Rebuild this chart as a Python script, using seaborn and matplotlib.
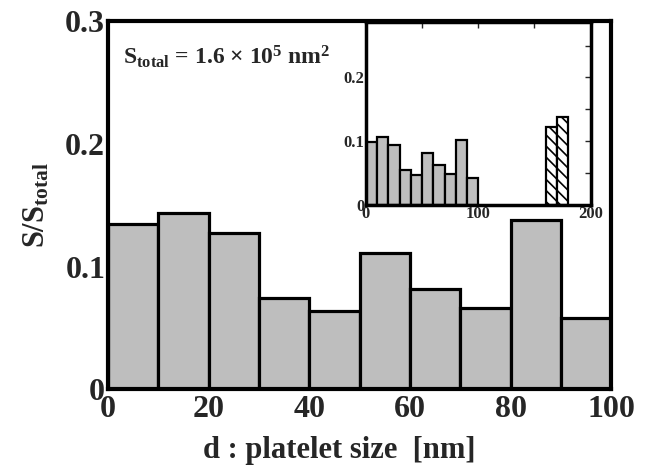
import numpy as np
import pandas as pd
import matplotlib
matplotlib.use("Agg")
import matplotlib.pyplot as plt
import seaborn as sns

# ---- data ----
main_edges = [0, 10, 20, 30, 40, 50, 60, 70, 80, 90, 100]
main_values = [0.135, 0.144, 0.127, 0.074, 0.064, 0.111, 0.082, 0.066, 0.138, 0.058]

inset_edges = [0, 10, 20, 30, 40, 50, 60, 70, 80, 90, 100]
inset_values = [0.0995, 0.106, 0.094, 0.0545, 0.047, 0.082, 0.062, 0.049, 0.102, 0.043]

hatch_edges = [160, 170, 180]
hatch_values = [0.122, 0.138]

main_xticks = [0, 20, 40, 60, 80, 100]
main_yticks = [0, 0.1, 0.2, 0.3]
main_yticklabels = ["0", "0.1", "0.2", "0.3"]
inset_xticks = [0, 100, 200]
inset_yticks = [0, 0.1, 0.2]
inset_yticklabels = ["0", "0.1", "0.2"]

sns.set_style("white")
plt.rcParams["font.family"] = ["Liberation Serif", "DejaVu Serif"]
plt.rcParams["font.weight"] = "bold"
plt.rcParams["mathtext.fontset"] = "custom"
plt.rcParams["mathtext.rm"] = "Liberation Serif:bold"
plt.rcParams["mathtext.bf"] = "Liberation Serif:bold"
plt.rcParams["mathtext.it"] = "Liberation Serif:bold"
plt.rcParams["hatch.linewidth"] = 1.2

GREY = "#bebebe"

def centers(edges):
    e = np.asarray(edges, dtype=float)
    return (e[:-1] + e[1:]) / 2

fig = plt.figure(figsize=(6.54, 4.69), dpi=100)
ax = fig.add_axes([0.165, 0.170, 0.770, 0.785])

df_main = pd.DataFrame({"d": centers(main_edges), "w": main_values})
sns.histplot(data=df_main, x="d", weights="w", bins=main_edges, ax=ax,
             color=GREY, alpha=1.0, edgecolor="black", linewidth=2.3)
ax.set_axisbelow(True)
ax.set_xlim(0, 100)
ax.set_ylim(0, 0.3)
ax.set_xticks(main_xticks)
ax.set_xticklabels([str(t) for t in main_xticks])
ax.set_yticks(main_yticks)
ax.set_yticklabels(main_yticklabels)
ax.set_yticks([0.05, 0.15, 0.25], minor=True)
ax.tick_params(axis="both", which="major", direction="in", labelsize=23,
               length=9, width=2.5, pad=2)
ax.tick_params(axis="y", which="minor", direction="in", length=9, width=2.5)
ax.tick_params(axis="x", which="both", length=0, pad=4)
for s in ax.spines.values():
    s.set_linewidth(3)
    s.set_color("black")
ax.set_xlabel("d : platelet size  [nm]", fontsize=22, fontweight="bold")
ax.xaxis.set_label_coords(0.46, -0.128)
ax.set_ylabel(r"S/S$_{\mathrm{total}}$", fontsize=22, fontweight="bold", labelpad=10)

ax.text(0.03, 0.94, r"S$_{\mathrm{total}}$ = 1.6 $\times$ 10$^{5}$ nm$^{2}$",
        transform=ax.transAxes, fontsize=17, fontweight="bold", va="top", ha="left")

# ---- inset ----
ins = fig.add_axes([0.5596, 0.563, 0.3434, 0.390])
df_in = pd.DataFrame({"d": centers(inset_edges), "w": inset_values})
sns.histplot(data=df_in, x="d", weights="w", bins=inset_edges, ax=ins,
             color=GREY, alpha=1.0, edgecolor="black", linewidth=1.6)
df_h = pd.DataFrame({"d": centers(hatch_edges), "w": hatch_values})
sns.histplot(data=df_h, x="d", weights="w", bins=hatch_edges, ax=ins,
             color="white", alpha=1.0, edgecolor="black", linewidth=1.6,
             hatch="\\\\\\")
ins.set_xlim(0, 200)
ins.set_ylim(0, 0.287)
ins.set_xticks(inset_xticks)
ins.set_xticklabels([str(t) for t in inset_xticks])
ins.set_xticks([50, 150], minor=True)
ins.set_yticks(inset_yticks)
ins.set_yticklabels(inset_yticklabels)
ins.set_yticks([0.05, 0.15, 0.25], minor=True)
ins.tick_params(axis="both", which="both", direction="in", top=True, right=True,
                labelsize=12, length=4, width=1.0, pad=1)
ins.set_xlabel("")
ins.set_ylabel("")
for s in ins.spines.values():
    s.set_linewidth(2.5)
    s.set_color("black")

fig.savefig("out.png", dpi=100)
